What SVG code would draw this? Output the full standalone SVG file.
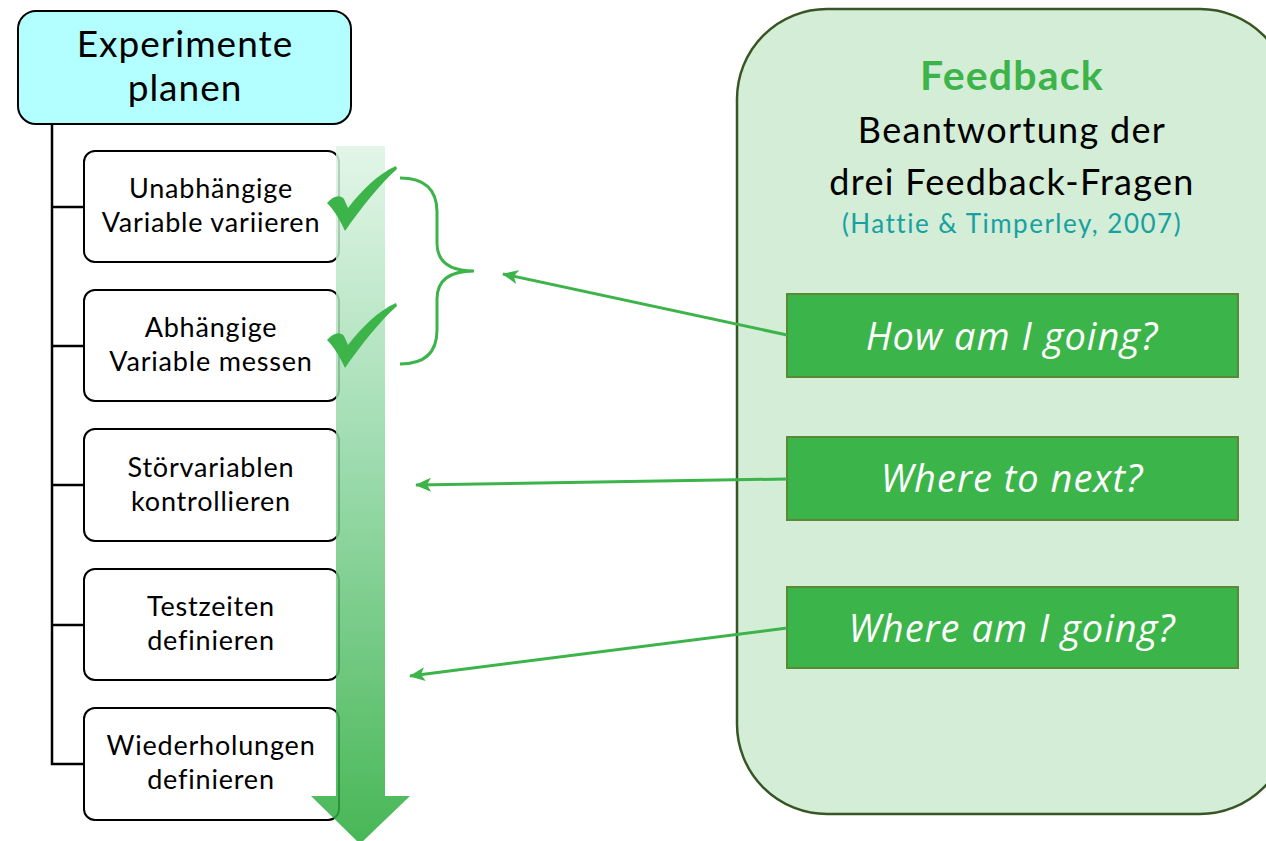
<svg xmlns="http://www.w3.org/2000/svg" width="1266" height="841" viewBox="0 0 1266 841">
  <style>
    .node { fill: #ffffff; stroke: #000000; stroke-width: 2; }
    .root { fill: #b3ffff; stroke: #000000; stroke-width: 2; }
    .tree { fill: none; stroke: #000000; stroke-width: 2.5; }
    .lbl { font-family: Lato, "Liberation Sans", sans-serif; fill: #000000; text-anchor: middle; }
    .step { font-size: 27px; letter-spacing: 0.8px; }
    .q { fill: #3bb54a; stroke: #5b8a37; stroke-width: 2; }
    .qt { font-family: "Open Sans", "Liberation Sans", sans-serif; font-style: italic; font-size: 38px; letter-spacing: 1px; fill: #ffffff; text-anchor: middle; }
    .link { fill: none; stroke: #3cb44a; stroke-width: 3; }
    .tick { fill: #3cb44a; }
  </style>
  <defs>
    <linearGradient id="flowGrad" x1="0" y1="146" x2="0" y2="844" gradientUnits="userSpaceOnUse">
      <stop offset="0" stop-color="#def4e4"/>
      <stop offset="0.45" stop-color="#8cd5a0"/>
      <stop offset="1" stop-color="#27aa38"/>
    </linearGradient>
    <marker id="head" viewBox="0 0 16 14" refX="15" refY="7" markerWidth="16" markerHeight="14" markerUnits="userSpaceOnUse" orient="auto">
      <path d="M0,0 L16,7 L0,14 L4,7 Z" fill="#3cb44a"/>
    </marker>
  </defs>

  <!-- feedback panel -->
  <g id="feedback-panel">
    <rect x="737" y="9" width="553" height="805" rx="90" ry="90" fill="#d3edd7" stroke="#375623" stroke-width="2.5"/>
    <text x="1012" y="90" font-family="Lato, 'Liberation Sans', sans-serif" font-weight="bold" font-size="41" letter-spacing="1.2" fill="#3cb44a" text-anchor="middle">Feedback</text>
    <text class="lbl" x="1012" y="143" font-size="36" letter-spacing="1.3">Beantwortung der</text>
    <text class="lbl" x="1012" y="195" font-size="36" letter-spacing="1.3">drei Feedback-Fragen</text>
    <text x="1012" y="233" font-family="Lato, 'Liberation Sans', sans-serif" font-size="26" letter-spacing="1.5" fill="#17a1a0" text-anchor="middle">(Hattie &amp; Timperley, 2007)</text>
  </g>

  <g id="q-how">
    <rect class="q" x="787" y="294" width="451" height="83"/>
    <text class="qt" x="1012" y="350">How am I going?</text>
  </g>
  <g id="q-next">
    <rect class="q" x="787" y="437" width="451" height="83"/>
    <text class="qt" x="1012" y="492">Where to next?</text>
  </g>
  <g id="q-where">
    <rect class="q" x="787" y="587" width="451" height="81"/>
    <text class="qt" x="1012" y="642">Where am I going?</text>
  </g>

  <!-- hierarchy lines -->
  <g id="tree-lines">
    <path class="tree" d="M52,124 V764 H84 M52,207 H84 M52,346 H84 M52,485 H84 M52,625 H84"/>
  </g>

  <g id="root">
    <rect class="root" x="18" y="11" width="333" height="113" rx="18" ry="18"/>
    <text class="lbl" x="185" y="57" font-size="37" letter-spacing="1">Experimente</text>
    <text class="lbl" x="185" y="101" font-size="37" letter-spacing="1">planen</text>
  </g>

  <g id="step-1">
    <rect class="node" x="84" y="151" width="255" height="111" rx="11" ry="11"/>
    <text class="lbl step" x="211" y="198">Unabhängige</text>
    <text class="lbl step" x="211" y="232">Variable variieren</text>
  </g>
  <g id="step-2">
    <rect class="node" x="84" y="290" width="255" height="111" rx="11" ry="11"/>
    <text class="lbl step" x="211" y="337">Abhängige</text>
    <text class="lbl step" x="211" y="371">Variable messen</text>
  </g>
  <g id="step-3">
    <rect class="node" x="84" y="429" width="255" height="112" rx="11" ry="11"/>
    <text class="lbl step" x="211" y="477">Störvariablen</text>
    <text class="lbl step" x="211" y="511">kontrollieren</text>
  </g>
  <g id="step-4">
    <rect class="node" x="84" y="569" width="255" height="111" rx="11" ry="11"/>
    <text class="lbl step" x="211" y="616">Testzeiten</text>
    <text class="lbl step" x="211" y="650">definieren</text>
  </g>
  <g id="step-5">
    <rect class="node" x="84" y="708" width="255" height="112" rx="11" ry="11"/>
    <text class="lbl step" x="211" y="755">Wiederholungen</text>
    <text class="lbl step" x="211" y="789">definieren</text>
  </g>

  <!-- downward progress arrow, translucent over the step boxes -->
  <g id="progress-arrow">
    <path d="M336,146 H385 V796 H410 L360,844 L311,796 H336 Z" fill="url(#flowGrad)" opacity="0.85"/>
  </g>

  <!-- check marks -->
  <g id="ticks">
    <path class="tick" d="M327,203 C333,196 340,194 344,199 L348,208 C362,190 378,174 396,166 L397,169 C380,184 361,208 345,231 C340,220 334,210 327,203 Z"/>
    <path class="tick" transform="translate(0,137)" d="M327,203 C333,196 340,194 344,199 L348,208 C362,190 378,174 396,166 L397,169 C380,184 361,208 345,231 C340,220 334,210 327,203 Z"/>
  </g>

  <!-- connectors -->
  <g id="connectors">
    <path class="link" stroke-width="3.5" d="M400,178 Q437,178 437,212 L437,243 Q437,271 474,271 Q437,271 437,299 L437,330 Q437,364 400,364"/>
    <line class="link" x1="787" y1="335" x2="503" y2="274" marker-end="url(#head)"/>
    <line class="link" x1="787" y1="479" x2="416" y2="485" marker-end="url(#head)"/>
    <line class="link" x1="787" y1="628" x2="410" y2="676" marker-end="url(#head)"/>
  </g>
</svg>
